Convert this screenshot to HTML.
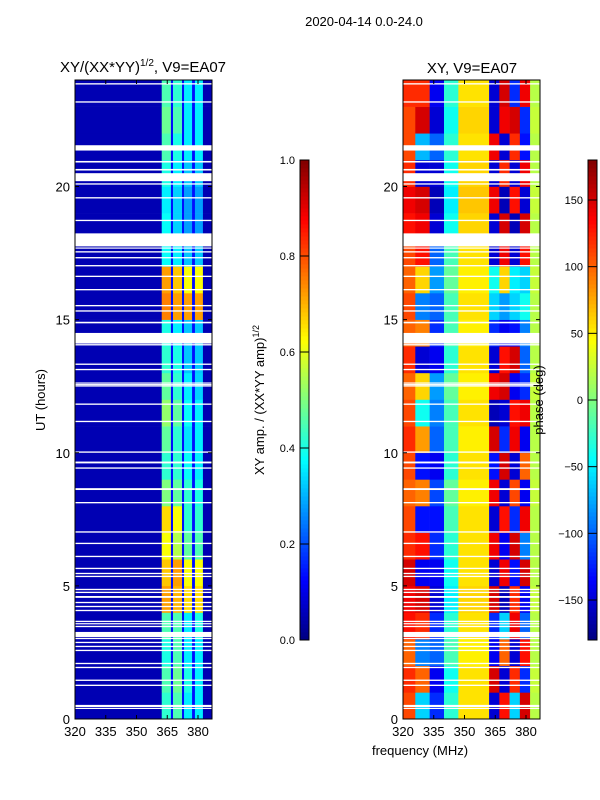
<!DOCTYPE html>
<html><head><meta charset="utf-8">
<style>
body{margin:0;background:#fff;}
svg{display:block;font-family:"Liberation Sans","DejaVu Sans",sans-serif;}
</style></head>
<body>
<svg id="fig" width="600" height="800" xmlns="http://www.w3.org/2000/svg">
<text x="364" y="26" font-size="13" text-anchor="middle">2020-04-14 0.0-24.0</text>
<g id="left"></g>
<g id="right"></g>
<g id="cb1"></g>
<g id="cb2"></g>
<text x="143" y="72" font-size="15" text-anchor="middle">XY/(XX*YY)<tspan font-size="10" dy="-6">1/2</tspan><tspan dy="6">, V9=EA07</tspan></text>
<text x="472" y="73" font-size="15" text-anchor="middle">XY, V9=EA07</text>
<text x="45" y="400" font-size="13" text-anchor="middle" transform="rotate(-90 45 400)">UT (hours)</text>
<text x="420" y="755" font-size="13" text-anchor="middle">frequency (MHz)</text>
<text x="264" y="400" font-size="13" text-anchor="middle" transform="rotate(-90 264 400)">XY amp. / (XX*YY amp)<tspan font-size="9" dy="-5">1/2</tspan></text>
<text x="543" y="400" font-size="13" text-anchor="middle" transform="rotate(-90 543 400)">phase (deg)</text>
</svg>
<script>
// ---- data ----
const freqTicks = [320, 335, 350, 365, 380];
const hourTicks = [0, 5, 10, 15, 20];
const ampTicks = [0.0, 0.2, 0.4, 0.6, 0.8, 1.0];
const phaseTicks = [-150, -100, -50, 0, 50, 100, 150];
const ampFreqEdges = [320, 362.3, 366.8, 367.8, 372.2, 373.2, 377.1, 378.5, 382.4, 386.8];
const ampBg = 0.05;
const ampStripe1 = [0.42,0.45,0.4,0.45,0.72,0.68,0.62,0.66,0.5,0.42,0.47,0.52,0.47,0.42,0.4,0.75,0.72,0.38,0.38,0.36,0.4,0.45,0.48,0.45];
const ampStripe2 = [0.45,0.48,0.45,0.45,0.7,0.72,0.55,0.62,0.47,0.42,0.42,0.47,0.42,0.4,0.36,0.72,0.68,0.36,0.33,0.33,0.36,0.4,0.45,0.42];
const ampStripe3 = [0.36,0.4,0.36,0.36,0.66,0.62,0.47,0.42,0.42,0.38,0.35,0.38,0.36,0.32,0.32,0.72,0.62,0.32,0.28,0.28,0.32,0.36,0.36,0.36];
const ampStripe4 = [0.36,0.36,0.36,0.4,0.66,0.62,0.45,0.42,0.4,0.36,0.36,0.36,0.33,0.32,0.32,0.72,0.62,0.32,0.28,0.28,0.32,0.36,0.36,0.36];
const ampGap = 0.14;
const phaseFreqEdges = [320, 326, 333, 340, 347, 362, 367, 372, 377, 382, 386.8];
const phaseRows = [
 [110,  -60, -120, -30, 55, -150, 130, -60, 150, 20],
 [120,  100, -140, -40, 55, 150, -150, 120, -120, 25],
 [100,  -90, -100, -20, 50, -140, 100, -150, 130, 20],
 [130,  120, -120, -30, 55, -120, -60, 140, -100, 20],
 [140,  150, -150, -50, 60, 150, -160, 120, -140, 25],
 [150, -140, -140, -40, 55, -150, 140, -130, 150, 20],
 [120,  130, -120, -30, 55, 140, -140, 150, -90, 20],
 [110, -130, -130, -20, 55, -150, 130, -120, 140, 20],
 [100,   90, -110, -10, 50, 140, -150, 110, -140, 25],
 [110, -130, -140, -30, 55, -130, 150, -150, 100, 20],
 [120,   80, -100, -20, 50, 150, -120, 140, -140, 20],
 [110,  -40,  -90, -20, 55, -160, -150, 130, 140, 20],
 [100,   60,  -80, -10, 50, 140, 150, -140, -120, 25],
 [120, -150, -140, -30, 55, -150, 130, 150, -100, 20],
 [100,   90, -120, -20, 50, -120, -140, -130, -90, 20],
 [110,  -90, -100, -20, 55, -60, -80, -60, -40, 20],
 [100,   60,  -80, -10, 50, -40, 60, -50, -60, 25],
 [110,  130, -100, -20, 55, -150, 140, -150, 130, 20],
 [130,  140, -150, -40, 60, -150, 150, -160, 150, 20],
 [140,  150, -160, -50, 65, 140, -160, 130, -150, 25],
 [120, -150, -150, -40, 60, -150, 120, -150, 140, 20],
 [110,  -70, -100, -30, 55, 140, -150, 120, -130, 20],
 [110,  150, -150, -40, 60, -150, 140, 150, -120, 25],
 [120,  120, -140, -30, 55, -150, 150, -120, 140, 20]
];
const gapStarts = [0.38,0.45,1.24,1.43,1.91,2.06,2.55,2.7,2.85,3.0,3.08,3.45,3.56,3.64,4.05,4.2,4.35,4.55,4.73,4.84,5.33,5.44,5.63,6.08,6.57,7.0,8.1,8.6,9.4,9.6,10.0,11.15,11.8,12.5,12.55,12.6,13.1,13.3,14.03,14.1,14.86,15.3,15.5,16.1,16.6,17.0,17.3,17.52,17.67,17.75,18.7,19.55,20.07,20.2,20.6,20.9,21.35,23.15,23.83];
const gapEnds   = [0.42,0.53,1.29,1.48,1.96,2.11,2.6,2.75,2.9,3.05,3.27,3.5,3.6,3.69,4.1,4.25,4.4,4.62,4.78,4.89,5.38,5.49,5.68,6.13,6.62,7.05,8.15,8.67,9.45,9.67,10.05,11.2,11.85,12.53,12.58,12.64,13.15,13.35,14.08,14.5,14.92,15.35,15.55,16.15,16.65,17.05,17.35,17.57,17.71,18.24,18.75,19.6,20.12,20.5,20.66,20.96,21.55,23.2,23.88];

// ---- geometry ----
const NS = "http://www.w3.org/2000/svg";
const PW = 137, PT = 80, PB = 719;
const panels = [{x0:75, g:'left'}, {x0:403, g:'right'}];
function xScale(x0, f){ return x0 + (f - 320) * 2.05; }
function yScale(h){ return PB - h * (PB - PT) / 24; }
function jet(v){
  v = Math.max(0, Math.min(1, v));
  const r = Math.max(0, Math.min(1, 1.5 - Math.abs(4*v - 3)));
  const g = Math.max(0, Math.min(1, 1.5 - Math.abs(4*v - 2)));
  const b = Math.max(0, Math.min(1, 1.5 - Math.abs(4*v - 1)));
  return `rgb(${Math.round(r*255)},${Math.round(g*255)},${Math.round(b*255)})`;
}
function el(tag, attrs, parent){
  const e = document.createElementNS(NS, tag);
  for (const k in attrs) e.setAttribute(k, attrs[k]);
  parent.appendChild(e); return e;
}

(function(){
  const g = document.getElementById('left');
  const x0 = 75;
  for (let h = 0; h < 24; h++) {
    const rowVals = [ampBg, ampStripe1[h], ampGap, ampStripe2[h], ampGap, ampStripe3[h], ampGap, ampStripe4[h], ampBg];
    for (let c = 0; c < rowVals.length; c++) {
      const xa = xScale(x0, ampFreqEdges[c]), xb = xScale(x0, ampFreqEdges[c+1]);
      const r = el('rect', {x: xa, y: yScale(h+1), width: xb - xa + 0.3, height: yScale(h) - yScale(h+1) + 0.3, fill: jet(rowVals[c])}, g);
      
      
    }
  }
})();
(function(){
  const g = document.getElementById('right');
  const x0 = 403;
  for (let h = 0; h < 24; h++) {
    for (let c = 0; c < phaseRows[h].length; c++) {
      const xa = xScale(x0, phaseFreqEdges[c]), xb = xScale(x0, phaseFreqEdges[c+1]);
      const r = el('rect', {x: xa, y: yScale(h+1), width: xb - xa + 0.3, height: yScale(h) - yScale(h+1) + 0.3, fill: jet((phaseRows[h][c] + 180) / 360)}, g);
      
      
    }
  }
})();
panels.forEach(p => {
  const g = document.getElementById(p.g);
  for (let i = 0; i < gapStarts.length; i++) {
    const r = el('rect', {x: p.x0, y: yScale(gapEnds[i]), width: PW, height: Math.max(1.2, yScale(gapStarts[i]) - yScale(gapEnds[i])), fill: '#fff'}, g);
    
    
  }
  const f = el('rect', {x: p.x0, y: PT, width: PW, height: PB - PT, fill: 'none', stroke: '#000', 'stroke-width': 1}, g);
  
  
  freqTicks.forEach(t => {
    const x = xScale(p.x0, t);
    el('line', {x1: x, x2: x, y1: PB, y2: PB - 4, stroke: '#000'}, g);
    el('line', {x1: x, x2: x, y1: PT, y2: PT + 4, stroke: '#000'}, g);
    const tx = el('text', {x: x, y: PB + 17, 'font-size': 13, 'text-anchor': 'middle'}, g);
    tx.textContent = t;
    
    
  });
  hourTicks.forEach(t => {
    const y = yScale(t);
    el('line', {x1: p.x0, x2: p.x0 + 4, y1: y, y2: y, stroke: '#000'}, g);
    el('line', {x1: p.x0 + PW, x2: p.x0 + PW - 4, y1: y, y2: y, stroke: '#000'}, g);
    const tx = el('text', {x: p.x0 - 5, y: y + 5, 'font-size': 13, 'text-anchor': 'end'}, g);
    tx.textContent = t;
    
    
  });
});
function colorbar(id, x, ticks, vmin, vmax, fmt){
  const g = document.getElementById(id);
  const top = 160, bot = 640, n = 120;
  for (let i = 0; i < n; i++) {
    const y = bot - (i+1) * (bot - top) / n;
    el('rect', {x: x, y: y, width: 9, height: (bot - top) / n + 0.4, fill: jet((i + 0.5) / n)}, g);
  }
  el('rect', {x: x, y: top, width: 9, height: bot - top, fill: 'none', stroke: '#000'}, g);
  ticks.forEach(t => {
    const y = bot - (t - vmin) / (vmax - vmin) * (bot - top);
    el('line', {x1: x, x2: x + 9, y1: y, y2: y, stroke: '#000', 'stroke-width': 1}, g);
    const tx = el('text', {x: x - 5, y: y + 4, 'font-size': 11, 'text-anchor': 'end'}, g);
    tx.textContent = fmt(t);
    
    
  });
}
colorbar('cb1', 300, ampTicks, 0, 1, t => t.toFixed(1));
colorbar('cb2', 588, phaseTicks, -180, 180, t => (t < 0 ? '\u2212' + (-t) : '' + t));
</script>
</body></html>
